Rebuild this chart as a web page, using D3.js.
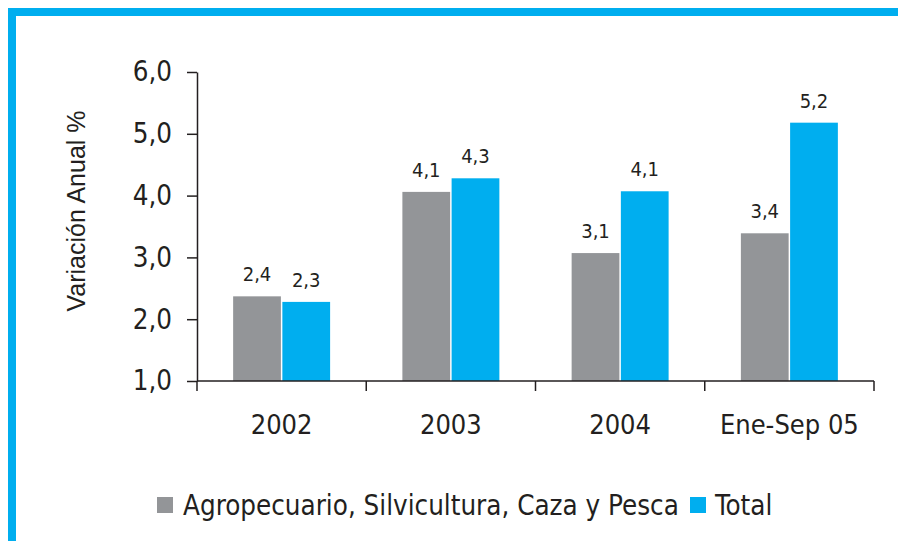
<!DOCTYPE html>
<html><head><meta charset="utf-8">
<script src="https://cdn.jsdelivr.net/npm/d3@7/dist/d3.min.js"></script>
<style>html,body{margin:0;padding:0;background:#fff;}svg{display:block;}</style>
</head><body>
<svg id="chart" width="898" height="541"></svg>
<script>
const categories = ["2002", "2003", "2004", "Ene-Sep 05"];
const seriesNames = ["Agropecuario, Silvicultura, Caza y Pesca", "Total"];
const agro = [2.37, 4.06, 3.07, 3.39];
const total = [2.28, 4.28, 4.07, 5.18];
const yTicks = [1, 2, 3, 4, 5, 6];
const colors = ["#939598", "#00AEEF"];

(function () {
const svg = d3.select("#chart");
const W = 898, H = 541;
const textColor = "#231F20";
const font = "'DejaVu Sans Condensed', 'DejaVu Sans', sans-serif";

// frame
svg.append("rect").attr("x", 8).attr("y", 8).attr("width", W - 8).attr("height", 8).attr("fill", "#00AEEF");
svg.append("rect").attr("x", 8).attr("y", 8).attr("width", 8).attr("height", H - 8).attr("fill", "#00AEEF");

const mLeft = 197, mRight = 874, mTop = 72, mBottom = 381;
const y = d3.scaleLinear().domain([1, 6]).range([mBottom, mTop]);
const pi = 0.427;
const x0 = d3.scaleBand().domain(categories).range([mLeft, mRight]).paddingInner(pi).paddingOuter(pi / 2);
const x1 = d3.scaleBand().domain(seriesNames).range([0, x0.bandwidth()]).paddingInner(0.03);

const data = categories.map((c, i) => ({cat: c, vals: [agro[i], total[i]]}));

// bars
const g = svg.append("g");
data.forEach(d => {
  d.vals.forEach((v, j) => {
    const bx = x0(d.cat) + x1(seriesNames[j]);
    g.append("rect")
      .attr("x", bx).attr("y", y(v))
      .attr("width", x1.bandwidth()).attr("height", y(1) - y(v))
      .attr("fill", colors[j]);
    g.append("text")
      .attr("x", bx + x1.bandwidth() / 2).attr("y", y(v) - 15)
      .attr("text-anchor", "middle")
      .attr("font-family", font).attr("font-size", 20).attr("fill", textColor)
      .text(d3.format(".1f")(v).replace(".", ","));
  });
});

// y axis
const yAxis = d3.axisLeft(y).tickValues(yTicks).tickSize(10).tickSizeOuter(0).tickPadding(15)
  .tickFormat(d => d3.format(".1f")(d).replace(".", ","));
const ya = svg.append("g").attr("transform", `translate(${mLeft},0)`).call(yAxis);
ya.selectAll("text").attr("font-family", font).attr("font-size", 27.5).attr("fill", textColor);
ya.selectAll("line").attr("stroke", textColor).attr("stroke-width", 1.5);
ya.select(".domain").attr("stroke", textColor).attr("stroke-width", 1.5);

// x axis
const step = x0.step();
const xa = svg.append("g");
xa.append("line").attr("x1", mLeft).attr("x2", mRight).attr("y1", mBottom).attr("y2", mBottom)
  .attr("stroke", textColor).attr("stroke-width", 1.5);
const boundaries = categories.map(c => x0(c) - step * pi / 2).concat([mRight]);
boundaries.forEach(b => {
  xa.append("line").attr("x1", b).attr("x2", b).attr("y1", mBottom).attr("y2", mBottom + 10)
    .attr("stroke", textColor).attr("stroke-width", 1.5);
});
categories.forEach(c => {
  xa.append("text").attr("x", x0(c) + x0.bandwidth() / 2).attr("y", 434)
    .attr("text-anchor", "middle").attr("font-family", font).attr("font-size", 27)
    .attr("fill", textColor).text(c);
});

// y title
svg.append("text")
  .attr("transform", "translate(76,211) rotate(-90)")
  .attr("text-anchor", "middle").attr("dominant-baseline", "central")
  .attr("font-family", "'Liberation Sans', Arial, sans-serif").attr("font-size", 25)
  .attr("fill", textColor).text("Variación Anual %");

// legend
const lg = svg.append("g");
const items = [{x: 157, tx: 183}, {x: 690, tx: 715}];
seriesNames.forEach((s, j) => {
  lg.append("rect").attr("x", items[j].x).attr("y", 497).attr("width", 16).attr("height", 16).attr("fill", colors[j]);
  lg.append("text").attr("x", items[j].tx).attr("y", 515)
    .attr("font-family", font).attr("font-size", 27.5).attr("fill", textColor).text(s);
});
})();
</script>
</body></html>
